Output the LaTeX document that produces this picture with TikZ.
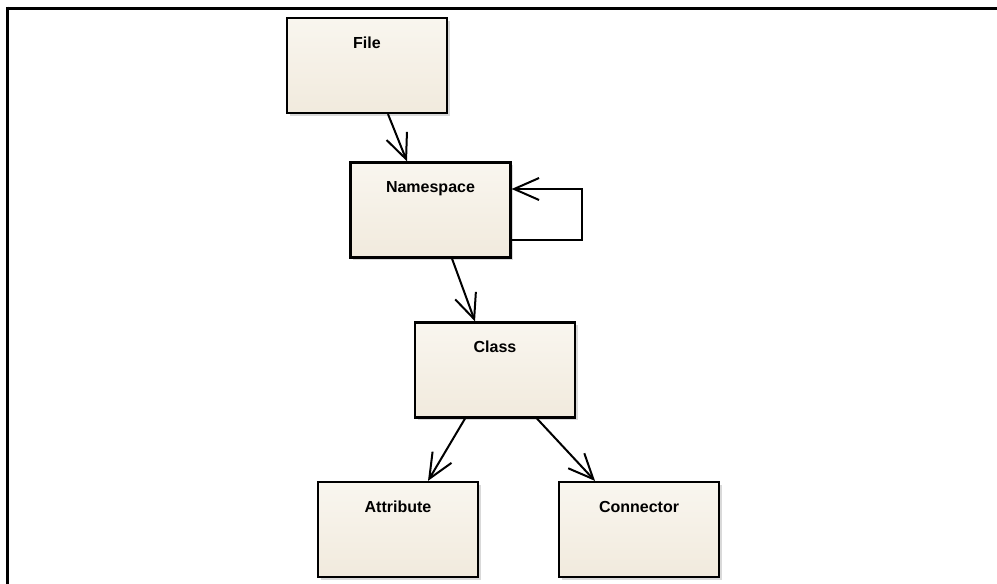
\documentclass[tikz,border=0pt]{standalone}
\usepackage{fontspec}
\setmainfont{Liberation Sans}
\usetikzlibrary{arrows.meta,shadows}

\definecolor{boxtop}{RGB}{249,246,239}
\definecolor{boxbot}{RGB}{241,234,221}

\tikzset{
  classbox/.style={
    draw=black, line width=2.2pt,
    top color=boxtop, bottom color=boxbot,
    drop shadow={shadow xshift=2.5pt, shadow yshift=-2.5pt, opacity=0.3},
    minimum width=160pt, minimum height=95pt,
    inner xsep=0pt, inner ysep=0pt,
    text height=30pt, text depth=65pt,
    font=\bfseries\fontsize{16}{18}\selectfont, align=center
  },
  assoc/.style={line width=2pt,
    -{Straight Barb[length=25pt,width=22pt,line width=2pt]}}
}

\begin{document}
\begin{tikzpicture}[x=1pt,y=-1pt]
  \useasboundingbox (0,0) rectangle (997,584);

  % frame edges
  \draw[line width=3pt] (6,8) -- (1000,8);
  \draw[line width=3pt] (7,6.5) -- (7,590);

  % classes
  \node[classbox] (file) at (367,65.5) {File};
  \node[classbox] (ns)   at (430.5,210) {Namespace};
  \node[classbox] (cls)  at (495,370) {Class};
  \node[classbox] (attr) at (398,529.5) {Attribute};
  \node[classbox] (conn) at (639,529.5) {Connector};

  % associations
  \draw[assoc] ([xshift=21pt]file.south) -- ([xshift=-23.5pt]ns.north);
  \draw[assoc] ([xshift=21.5pt]ns.south) -- ([xshift=-20pt]cls.north);
  \draw[assoc] ([xshift=-30pt]cls.south) -- ([xshift=30pt]attr.north);
  \draw[assoc] ([xshift=42pt]cls.south) -- ([xshift=-44pt]conn.north);
  \draw[assoc] ([yshift=-30pt]ns.east) -- ++(70,0) |- ([yshift=21pt]ns.east);
\end{tikzpicture}
\end{document}
